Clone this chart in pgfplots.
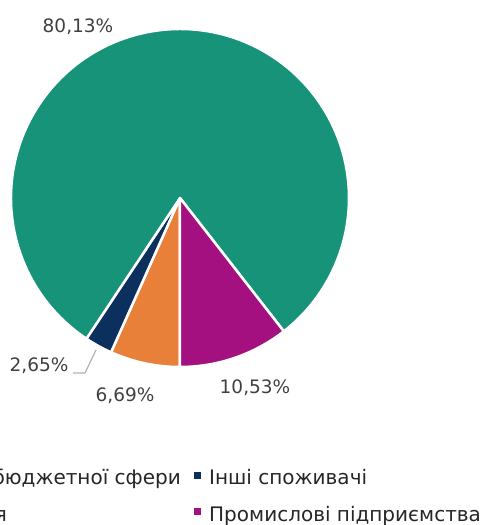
\documentclass[border=0pt]{standalone}
\usepackage{pgfplots}
\pgfplotsset{compat=1.18}
\usepackage{pgfplotstable}
\usepackage{fontspec}
\setmainfont{DejaVu Sans}
\definecolor{cteal}{RGB}{23,147,122}
\definecolor{cmag}{RGB}{164,16,128}
\definecolor{corange}{RGB}{233,128,58}
\definecolor{cblue}{RGB}{12,48,94}
\definecolor{ctext}{RGB}{38,38,38}
\definecolor{clabel}{RGB}{64,64,64}
\pgfplotstableread{
name value
Budget 6.69
Other 2.65
Population 80.13
Industry 10.53
}\piedata
\begin{document}
\begin{tikzpicture}
\pgfplotstablegetelem{0}{value}\of\piedata \let\vA\pgfplotsretval
\pgfplotstablegetelem{1}{value}\of\piedata \let\vB\pgfplotsretval
\pgfplotstablegetelem{2}{value}\of\piedata \let\vC\pgfplotsretval
\pgfplotstablegetelem{3}{value}\of\piedata \let\vD\pgfplotsretval
\pgfmathsetmacro{\aA}{270}
\pgfmathsetmacro{\aB}{\aA-3.6*\vA}
\pgfmathsetmacro{\aC}{\aB-3.6*\vB}
\pgfmathsetmacro{\aD}{\aC-3.6*\vC}
\pgfmathsetmacro{\aE}{\aD-3.6*\vD}
\def\cx{180}\def\cy{327}\def\R{169}
\useasboundingbox (0,0) rectangle (494pt,525pt);
\clip (0,0) rectangle (494pt,525pt);
\begin{axis}[at={(0,0)},anchor=south west,x=1pt,y=1pt,
  xmin=0,xmax=494,ymin=0,ymax=525,hide axis,clip=false,
  enlargelimits=false,disabledatascaling]
\fill[corange,draw=white,line width=2.5pt,line join=round] (axis cs:\cx,\cy) -- (axis cs:{\cx+\R*cos(\aA)},{\cy+\R*sin(\aA)}) arc[start angle=\aA,end angle=\aB,radius=\R pt] -- cycle;
\fill[cblue,draw=white,line width=2.5pt,line join=round] (axis cs:\cx,\cy) -- (axis cs:{\cx+\R*cos(\aB)},{\cy+\R*sin(\aB)}) arc[start angle=\aB,end angle=\aC,radius=\R pt] -- cycle;
\fill[cteal,draw=white,line width=2.5pt,line join=round] (axis cs:\cx,\cy) -- (axis cs:{\cx+\R*cos(\aC)},{\cy+\R*sin(\aC)}) arc[start angle=\aC,end angle=\aD,radius=\R pt] -- cycle;
\fill[cmag,draw=white,line width=2.5pt,line join=round] (axis cs:\cx,\cy) -- (axis cs:{\cx+\R*cos(\aD)},{\cy+\R*sin(\aD)}) arc[start angle=\aD,end angle=\aE,radius=\R pt] -- cycle;
% leader line
\draw[gray!60,line width=1.2pt] (axis cs:73,152) -- (axis cs:85,152) -- (axis cs:96,175);
% labels
\node[clabel,font=\fontsize{18.5}{20}\selectfont,inner sep=0pt] at (axis cs:78,498) {80,13\%};
\node[clabel,font=\fontsize{18.5}{20}\selectfont,inner sep=0pt] at (axis cs:255,137) {10,53\%};
\node[clabel,font=\fontsize{18.5}{20}\selectfont,inner sep=0pt] at (axis cs:125,129) {6,69\%};
\node[clabel,font=\fontsize{18.5}{20}\selectfont,inner sep=0pt] at (axis cs:39,159) {2,65\%};
% legend
\fill[cblue] (axis cs:194,46) rectangle (axis cs:201,53);
\fill[cmag] (axis cs:194,9.5) rectangle (axis cs:201,16.5);
\node[ctext,font=\fontsize{20}{22}\selectfont,inner sep=0pt,anchor=base west] at (axis cs:209,40) {Інші споживачі};
\node[ctext,font=\fontsize{20}{22}\selectfont,inner sep=0pt,anchor=base west] at (axis cs:209,3) {Промислові підприємства};
\node[ctext,font=\fontsize{20}{22}\selectfont,inner sep=0pt,anchor=base east] at (axis cs:181,40) {Установи бюджетної сфери};
\node[ctext,font=\fontsize{20}{22}\selectfont,inner sep=0pt,anchor=base east] at (axis cs:7,3) {Населення};
\end{axis}
\end{tikzpicture}
\end{document}
